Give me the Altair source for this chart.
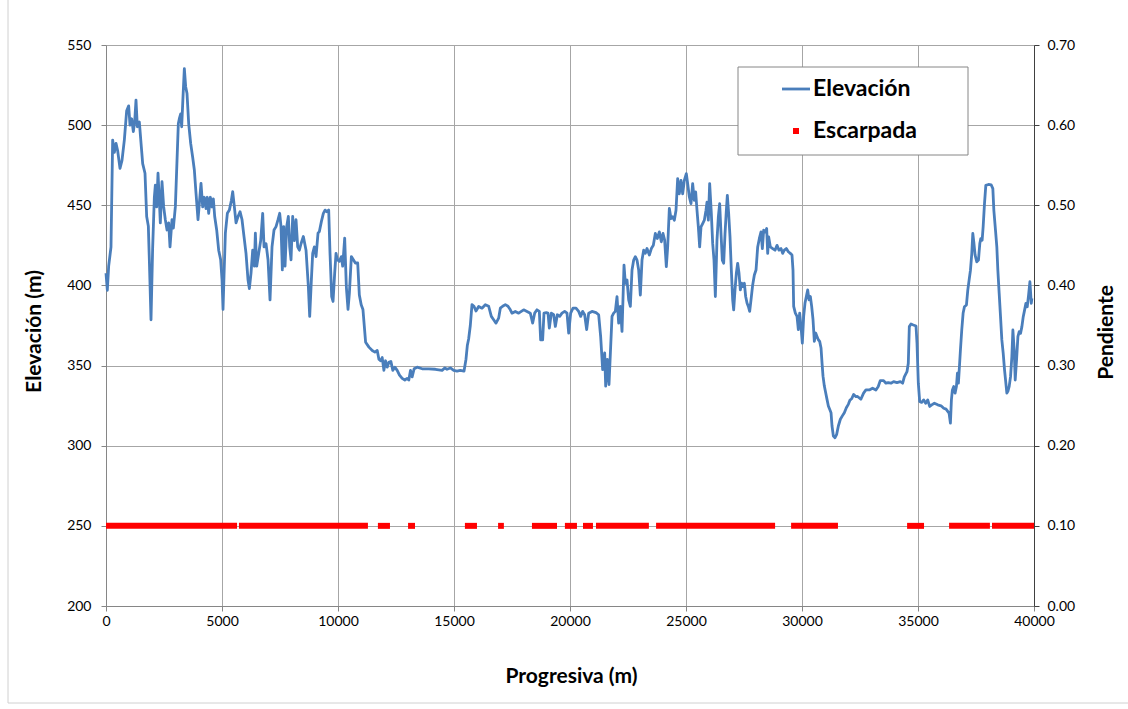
import altair as alt
import pandas as pd

# ---------------- data ----------------
perfil = [
    (0, 407.7), (57, 397), (115, 412), (215, 424), (287, 490.7), (359, 483), (431, 488.6), (503, 484),
    (603, 473), (690, 478), (790, 490.7), (891, 509), (977, 512), (1035, 500), (1106, 504), (1178, 496),
    (1236, 502), (1293, 515.6), (1351, 499), (1437, 502), (1523, 486.5), (1581, 476), (1681, 470),
    (1753, 443), (1825, 437), (1868, 416), (1940, 378.6), (2012, 424), (2084, 455), (2127, 462.6),
    (2184, 449), (2242, 470), (2299, 453), (2342, 439), (2414, 464.7), (2486, 449), (2558, 441),
    (2630, 434.6), (2702, 439), (2759, 424), (2845, 441), (2903, 435.7), (2989, 449), (3061, 478),
    (3118, 501), (3161, 504), (3219, 507), (3262, 499), (3319, 517.6), (3377, 535.3), (3434, 524),
    (3492, 519.7), (3564, 501), (3650, 488.6), (3736, 480), (3808, 472), (3880, 457.5), (3966, 441),
    (4023, 451), (4095, 463.7), (4167, 449), (4239, 455), (4311, 448), (4368, 455), (4426, 445),
    (4498, 455), (4570, 449), (4627, 454), (4685, 443), (4771, 434.6), (4857, 422), (4943, 416),
    (5001, 403.5), (5044, 385), (5087, 406), (5145, 432.6), (5231, 445), (5317, 447), (5403, 453),
    (5461, 458.5), (5533, 449), (5605, 439), (5691, 443), (5777, 446), (5863, 441), (5949, 430.5),
    (6035, 420), (6121, 403.5), (6179, 398), (6251, 407.7), (6323, 422), (6395, 412), (6438, 432.6),
    (6495, 412), (6582, 420), (6668, 428), (6754, 445), (6812, 424), (6898, 426), (6984, 416),
    (7070, 391), (7156, 424), (7242, 434.6), (7329, 436.7), (7415, 441), (7487, 445), (7544, 436.7),
    (7602, 409.7), (7659, 436.7), (7717, 412), (7788, 436.7), (7860, 443), (7918, 424), (7975, 416),
    (8047, 443), (8119, 428), (8191, 441), (8263, 424),
    (8335, 422), (8406, 426), (8507, 430.5), (8622, 422), (8723, 399), (8780, 380.7), (8852, 403.5),
    (8909, 420), (8981, 424), (9053, 418), (9139, 432.6), (9197, 433.6), (9283, 439.8), (9369, 445),
    (9441, 447), (9513, 446), (9599, 447), (9656, 420), (9728, 393), (9786, 390), (9857, 407.7),
    (9915, 420), (9972, 416), (10058, 415), (10145, 418), (10202, 412), (10288, 429.5), (10360, 399),
    (10432, 385), (10490, 395), (10576, 418), (10662, 416), (10748, 414), (10849, 414),
    (10920, 394), (11000, 388), (11075, 385), (11190, 364.6), (11333, 361.5), (11476, 359.4),
    (11590, 358.4), (11691, 359.4), (11763, 354), (11834, 353), (11906, 355), (11978, 347),
    (12049, 353), (12121, 349), (12193, 352), (12278, 352.6), (12364, 347), (12450, 349), (12551, 347),
    (12651, 344), (12766, 342), (12880, 341), (12981, 342), (13052, 341), (13124, 347), (13196, 343),
    (13282, 348), (13411, 349), (13626, 348), (13912, 348), (14199, 347.7), (14486, 347),
    (14600, 348.5), (14700, 347.7), (14844, 348.5), (14987, 347), (15130, 346.5), (15273, 347),
    (15431, 346.5), (15517, 354), (15574, 362.5), (15631, 366.6), (15703, 375), (15775, 388),
    (15861, 387), (15947, 384),
    (16063, 386.9), (16206, 385.8), (16350, 388), (16494, 387), (16609, 380.7), (16709, 378.6),
    (16810, 376.5), (16925, 379.6), (16997, 385.8), (17097, 387), (17212, 388), (17327, 387),
    (17428, 384.8), (17499, 382.7), (17643, 383.8), (17787, 382.7), (17902, 383.8), (18003, 384.8),
    (18146, 383.8), (18290, 382.7), (18391, 376.5), (18477, 382.7), (18577, 384.8), (18678, 383.8),
    (18735, 366), (18821, 366), (18879, 382.7), (18980, 383), (19052, 382.7), (19109, 373.4),
    (19195, 382.7), (19296, 381.7), (19368, 374.4), (19454, 381.7), (19555, 380.7), (19655, 382.7),
    (19770, 383.8), (19871, 382.7), (19943, 370.3), (20029, 382.7), (20129, 385.8), (20259, 385.8),
    (20374, 383.8), (20460, 380.7), (20546, 383.8), (20632, 381.7), (20718, 372.4), (20805, 382.7),
    (20948, 383.8), (21121, 383), (21236, 381.7), (21322, 368), (21408, 347.5), (21494, 357.9),
    (21538, 337.2), (21609, 353.8), (21681, 338.2), (21753, 362), (21811, 380.7), (21883, 382.7),
    (21954, 383.8), (22026, 393), (22098, 376.5), (22170, 386.9), (22242, 371.3), (22328, 412.7),
    (22385, 401.3), (22457, 403.4), (22529, 391), (22601, 386.9), (22673, 409.6), (22745, 415.8),
    (22816, 417.9), (22888, 415.8), (22960, 409.6), (23032, 394), (23104, 415.8), (23175, 422),
    (23247, 420), (23319, 423), (23420, 419), (23506, 423), (23592, 425), (23678, 432.4),
    (23764, 429.3), (23851, 433.4), (23937, 427.2), (24009, 432.4), (24080, 428.3), (24152, 411.7),
    (24210, 424), (24282, 448), (24353, 441.7), (24425, 442.8), (24497, 440.7), (24569, 446.9),
    (24641, 466.6), (24713, 457.2), (24784, 465.5), (24856, 457.2), (24928, 465.5), (25014, 469.7),
    (25072, 463.5), (25144, 455.2), (25216, 451), (25287, 463.5), (25359, 453.1), (25417, 458.3),
    (25474, 446.9), (25532, 436.5), (25589, 424), (25647, 436.5), (25719, 438.6), (25790, 440.7),
    (25862, 446.9), (25905, 452), (25963, 440.7), (26020, 463.5), (26092, 444.8), (26150, 426.2),
    (26207, 415.8), (26265, 393.1), (26336, 428.3), (26394, 442.8), (26451, 451), (26509, 432.4),
    (26566, 415.8), (26624, 413.8), (26681, 432), (26739, 446.9), (26782, 456.2), (26839, 444.8),
    (26897, 430.3), (26954, 409.6), (27012, 391), (27055, 384.8), (27112, 397.2), (27170, 407.6),
    (27227, 413.8), (27285, 407.6), (27342, 397.2), (27400, 401.4), (27457, 399.3), (27515, 401.4),
    (27572, 393.1), (27630, 389), (27687, 386.9), (27745, 383.8), (27802, 391), (27874, 400.3),
    (27946, 406.5), (28018, 409.6), (28090, 424), (28162, 429.3), (28233, 433.4), (28291, 423),
    (28348, 434.5), (28420, 433.4), (28477, 435.5), (28521, 420), (28564, 430.3), (28636, 424),
    (28736, 423), (28837, 422), (28923, 425), (29009, 422), (29095, 423), (29167, 420), (29239, 422),
    (29325, 423), (29411, 421), (29497, 420), (29569, 419), (29612, 409.6), (29641, 386.9),
    (29713, 382.7), (29785, 380.7), (29842, 372.4), (29900, 382.7), (29957, 374.4), (30014, 364),
    (30072, 380.7), (30129, 389), (30187, 393.1), (30245, 397.2), (30302, 391), (30360, 393.1),
    (30417, 386.9), (30475, 378.6), (30532, 365.1), (30590, 370.3), (30647, 368.2), (30705, 366.1),
    (30762, 365.1), (30820, 361), (30863, 351.7), (30906, 343.4), (30963, 337.2), (31021, 333),
    (31078, 328.9), (31136, 324.8), (31193, 322.7), (31251, 320.6), (31294, 312.3), (31351, 306.1),
    (31423, 305), (31495, 307.1), (31567, 312.3), (31653, 316.5), (31739, 318.6), (31825, 320.6),
    (31911, 323.7), (31997, 325.8), (32069, 328.5), (32141, 329.3), (32227, 332), (32328, 330.6),
    (32394, 330.7), (32538, 329), (32654, 332.8), (32755, 334.8), (32899, 334.8), (33042, 335.9),
    (33186, 334.8), (33287, 336.9), (33373, 340.6), (33517, 340.6), (33618, 339), (33718, 339.4),
    (33834, 339), (33949, 340), (34093, 339.4), (34237, 340), (34338, 339), (34410, 343),
    (34525, 346.2), (34582, 351.4), (34626, 374.3), (34698, 375.9), (34798, 375.3), (34914, 374.7),
    (34957, 363.9), (35014, 339), (35072, 327.6), (35158, 327), (35245, 328.6), (35331, 326.5),
    (35418, 328.6), (35504, 324.5), (35590, 325.5), (35706, 326.5), (35850, 325.5), (35994, 324.9),
    (36109, 323.4), (36210, 322.8), (36282, 321.4), (36339, 320.3), (36397, 314.1), (36440, 328.6),
    (36483, 334.8), (36541, 336.9), (36598, 332.8), (36656, 336.9), (36699, 345.2), (36742, 339),
    (36786, 349.4), (36829, 359.7), (36886, 372.2), (36944, 382.6), (37002, 386.7), (37088, 387.8),
    (37146, 397.1), (37203, 403.3), (37261, 409.5), (37318, 419.9), (37362, 432.4), (37405, 427.2),
    (37462, 418.9), (37534, 414.7), (37606, 415.8), (37664, 426.1), (37707, 429.2), (37765, 428.2),
    (37808, 436.5), (37866, 451), (37923, 462.4), (38038, 463), (38154, 462.7), (38226, 460.4),
    (38269, 446.9), (38341, 434.4), (38398, 424), (38442, 409.5), (38499, 395), (38557, 380.5),
    (38614, 366), (38672, 357.7), (38730, 347.3), (38787, 339), (38830, 332.8), (38874, 333.9),
    (38931, 337), (38989, 343.1), (39046, 355.6), (39090, 372.2), (39147, 359.7), (39190, 341),
    (39248, 353.5), (39306, 368), (39363, 371.2), (39421, 370.1), (39478, 374.3), (39536, 380.5),
    (39594, 384.6), (39651, 388.8), (39709, 386.7), (39766, 394), (39824, 402.3), (39882, 388.8),
    (39910, 391.9),
]
progresiva = [p[0] for p in perfil]
elevacion = [p[1] for p in perfil]

# tramos escarpados (pendiente = 0.10 en el eje derecho)
esc_inicio = [0, 5730, 11720, 13020, 15470, 16900, 18360, 19780, 20560, 21120, 23710, 29530, 34530, 36340, 38190]
esc_fin = [5650, 11290, 12240, 13320, 15990, 17150, 19440, 20300, 20990, 23400, 28840, 31550, 35260, 38100, 40000]
esc_pendiente = 0.10

series = ["Elevación", "Escarpada"]
x_ticks = [0, 5000, 10000, 15000, 20000, 25000, 30000, 35000, 40000]
y_ticks = [200, 250, 300, 350, 400, 450, 500, 550]
p_ticks = [0.0, 0.1, 0.2, 0.3, 0.4, 0.5, 0.6, 0.7]

# ---------------- chart ----------------
W, H = 928, 561
FONT = "Lato"
BLUE = "#4a7ebb"
RED = "#ff0000"

df_line = pd.DataFrame({"progresiva": progresiva, "elevacion": elevacion})
df_esc = pd.DataFrame({"inicio": esc_inicio, "fin": esc_fin,
                       "pendiente": [esc_pendiente] * len(esc_inicio)})

xscale = alt.Scale(domain=[0, 40000], nice=False, zero=False)


def x_axis():
    return alt.Axis(values=x_ticks, format="d", title="Progresiva (m)",
                    grid=True, gridColor="#a6a6a6", gridWidth=1,
                    domainColor="#868686", tickColor="#868686", tickSize=5,
                    labelPadding=3, labelFontSize=14, labelFlush=False,
                    titleX=465, titleY=70, titleAlign="center", titleBaseline="middle")


line = alt.Chart(df_line).mark_line(color=BLUE, strokeWidth=2.8, strokeJoin="round").encode(
    x=alt.X("progresiva:Q", scale=xscale, axis=x_axis()),
    y=alt.Y("elevacion:Q", scale=alt.Scale(domain=[200, 550], nice=False, zero=False),
            axis=alt.Axis(values=y_ticks, title="Elevación (m)", grid=True, gridColor="#a6a6a6",
                          gridWidth=1, domainColor="#868686", tickColor="#868686", tickSize=5,
                          labelPadding=10, labelFontSize=14, labelFlush=False,
                          titleX=-72, titleY=286, titleAngle=270, titleAlign="center",
                          titleBaseline="middle")),
)

esc = alt.Chart(df_esc).mark_rule(color=RED, strokeWidth=6, strokeCap="butt").encode(
    x=alt.X("inicio:Q", scale=xscale, axis=x_axis()),
    x2="fin:Q",
    y=alt.Y("pendiente:Q", scale=alt.Scale(domain=[0, 0.7], nice=False, zero=True),
            axis=alt.Axis(orient="right", values=p_ticks, format=".2f", title="Pendiente",
                          grid=False, domainColor="#404040", tickColor="#404040", tickSize=5,
                          labelPadding=8, labelFontSize=14, labelFlush=False,
                          titleX=72, titleY=287, titleAngle=270, titleAlign="center",
                          titleBaseline="middle")),
)

# legend (decoration)
df_leg1 = pd.DataFrame({"serie": [series[0]]})
df_leg2 = pd.DataFrame({"serie": [series[1]]})
leg_box = alt.Chart(df_leg1).mark_rect(fill="white", stroke="#868686", strokeWidth=1).encode(
    x=alt.value(632), x2=alt.value(862), y=alt.value(22), y2=alt.value(110))
leg_line = alt.Chart(df_leg1).mark_rule(color=BLUE, strokeWidth=2.8).encode(
    x=alt.value(676), x2=alt.value(704), y=alt.value(44))
leg_sq = alt.Chart(df_leg2).mark_square(color=RED, size=36, opacity=1, filled=True).encode(
    x=alt.value(690), y=alt.value(86))
leg_t1 = alt.Chart(df_leg1).mark_text(align="left", baseline="middle", font=FONT, fontSize=23,
                                      fontWeight="bold", color="#000000").encode(
    x=alt.value(707), y=alt.value(44), text="serie:N")
leg_t2 = alt.Chart(df_leg2).mark_text(align="left", baseline="middle", font=FONT, fontSize=23,
                                      fontWeight="bold", color="#000000").encode(
    x=alt.value(707), y=alt.value(86), text="serie:N")

frame = alt.Chart(df_leg1).mark_rect(fill=None, stroke="#d0d0d0", strokeWidth=1).encode(
    x=alt.value(-98), x2=alt.value(1040), y=alt.value(-60), y2=alt.value(658))

chart = alt.layer(frame, line, esc, leg_box, leg_line, leg_sq, leg_t1, leg_t2).resolve_scale(
    y="independent"
).properties(
    width=W, height=H,
    autosize=alt.AutoSizeParams(type="none"),
    padding={"left": 106, "top": 45, "right": 94, "bottom": 103},
    background="white",
).configure_view(strokeWidth=0).configure_axis(
    labelFont=FONT, titleFont=FONT, labelColor="#000000", titleColor="#000000",
    titleFontSize=21, titleFontWeight="bold",
)

chart.save("out.html", embed_options={"renderer": "svg", "actions": False})
